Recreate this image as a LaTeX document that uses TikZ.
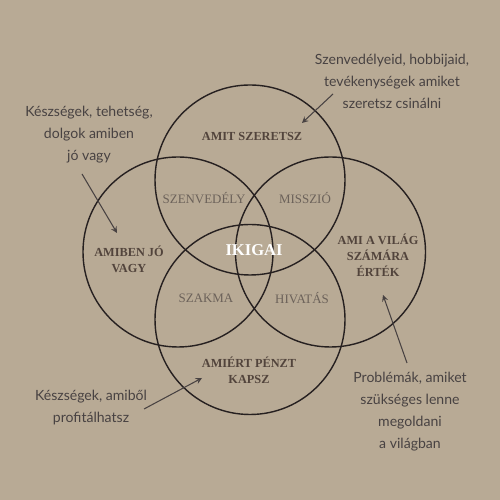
\documentclass[tikz,border=0pt]{standalone}
\usepackage{fontspec}
\setmainfont{Liberation Serif}
\newfontfamily\notefont{Lato}
\definecolor{bgtan}{RGB}{184,170,149}
\definecolor{ringcol}{RGB}{38,32,32}
\definecolor{labcol}{RGB}{82,68,60}
\definecolor{mixcol}{RGB}{108,98,90}
\definecolor{notecol}{RGB}{72,66,66}
\tikzset{
    ring/.style={draw=ringcol, thick},
    circlab/.style={text=labcol, font=\bfseries\fontsize{7}{9.2}\selectfont, align=center},
    mixlab/.style={text=mixcol, font=\fontsize{7.35}{9}\selectfont},
    notelab/.style={text=notecol, font=\notefont\fontsize{8}{12.5}\selectfont, align=center},
    pointer/.style={->, >=stealth, draw=notecol, semithick}
}

\begin{document}
\begin{tikzpicture}
            \fill[bgtan] (0,0) rectangle (10,10);
            \useasboundingbox (0,0) rectangle (10,10);

            \draw[ring] (5, 6.40) circle [radius=1.90];
            \draw[ring] (5, 3.61) circle [radius=1.90];
            \draw[ring] (3.56, 4.96) circle [radius=1.90];
            \draw[ring] (6.61, 4.96) circle [radius=1.90];

            \node[circlab] (love) at (5.04, 7.28) {AMIT SZERETSZ};
            \node[circlab] (good) at (2.58, 4.82) {AMIBEN JÓ\\VAGY};
            \node[circlab] (world) at (7.56, 4.90) {AMI A VILÁG\\SZÁMÁRA\\ÉRTÉK};
            \node[circlab] (paid) at (4.98, 2.59) {AMIÉRT PÉNZT\\KAPSZ};

            \node[mixlab] (passion) at (4.08, 6.04) {SZENVEDÉLY};
            \node[mixlab] (mission) at (6.10, 6.04) {MISSZIÓ};
            \node[mixlab] (profession) at (4.12, 4.04) {SZAKMA};
            \node[mixlab] (vocation) at (6.04, 4.04) {HIVATÁS};
            \node[font=\bfseries\fontsize{9.4}{11}\selectfont, text=white] (ikigai) at (5.08, 5.00) {IKIGAI};

            \node[notelab] (notegood) at (1.78, 7.30) {Készségek, tehetség,\\dolgok amiben\\jó vagy};
            \node[notelab] (notelove) at (7.84, 8.38) {Szenvedélyeid, hobbijaid,\\tevékenységek amiket\\szeretsz csinálni};
            \node[notelab] (notepaid) at (1.82, 1.84) {Készségek, amiből\\profitálhatsz};
            \node[notelab] (noteworld) at (8.20, 1.76) {Problémák, amiket\\szükséges lenne\\megoldani\\a világban};

            \coordinate (tgood) at (1.64, 6.52);
            \coordinate (hgood) at (2.34, 5.34);
            \coordinate (tlove) at (6.66, 8.12);
            \coordinate (hlove) at (6.04, 7.54);
            \coordinate (tpaid) at (2.88, 1.82);
            \coordinate (hpaid) at (4.04, 2.44);
            \coordinate (tworld) at (8.14, 2.74);
            \coordinate (hworld) at (7.66, 4.10);

            \draw[pointer] (tgood) to (hgood);
            \draw[pointer] (tlove) to (hlove);
            \draw[pointer] (tpaid) to (hpaid);
            \draw[pointer] (tworld) to (hworld);
      \end{tikzpicture}
\end{document}
